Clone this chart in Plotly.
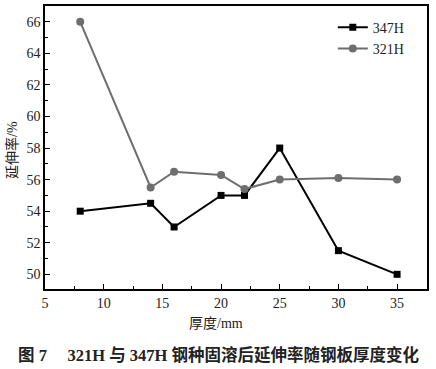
import plotly.graph_objects as go

thickness = [8, 14, 16, 20, 22, 25, 30, 35]
elong_347H = [54.0, 54.5, 53.0, 55.0, 55.0, 58.0, 51.5, 50.0]
elong_321H = [66.0, 55.5, 56.5, 56.3, 55.4, 56.0, 56.1, 56.0]

serif = "Liberation Serif, Times New Roman, serif"
cjk = "Liberation Serif, Noto Sans CJK SC, serif"

fig = go.Figure()
fig.add_trace(go.Scatter(x=thickness, y=elong_347H, name="347H", mode="lines+markers",
                         line=dict(color="black", width=2),
                         marker=dict(symbol="square", size=7, color="black")))
fig.add_trace(go.Scatter(x=thickness, y=elong_321H, name="321H", mode="lines+markers",
                         line=dict(color="#6e6e6e", width=2),
                         marker=dict(symbol="circle", size=8, color="#6e6e6e")))

axis_common = dict(showline=True, linecolor="black", linewidth=1.5, mirror=True,
                   ticks="inside", ticklen=5, tickcolor="black", tickwidth=1,
                   showgrid=False, zeroline=False, automargin=False,
                   tickfont=dict(family=serif, size=14, color="#222"))
fig.update_xaxes(range=[5, 37.55], tickvals=[5, 10, 15, 20, 25, 30, 35],
                 minor=dict(ticks="inside", ticklen=3, tickcolor="black", dtick=2.5, tick0=5),
                 **axis_common)
fig.update_yaxes(range=[49.07, 67.0], tickvals=[50, 52, 54, 56, 58, 60, 62, 64, 66],
                 minor=dict(ticks="inside", ticklen=3, tickcolor="black", dtick=1, tick0=50),
                 **axis_common)

pw = 436 - 45 - 9
ph = 369 - 6 - 80
def px(x):
    return (x - 45) / pw
def py(y):
    return (369 - 80 - y) / ph

fig.update_layout(
    width=436, height=369,
    margin=dict(l=45, r=9, t=6, b=80, autoexpand=False),
    paper_bgcolor="white", plot_bgcolor="white",
    legend=dict(x=0.955, y=0.98, xanchor="right", yanchor="top",
                bgcolor="rgba(0,0,0,0)", font=dict(family=serif, size=14, color="#222"),
                itemwidth=30, tracegroupgap=0),
    annotations=[
        dict(text="厚度/mm", x=px(216), y=py(333), xref="paper", yref="paper", showarrow=False,
             font=dict(family=cjk, size=14, color="#222")),
        dict(text="延伸率/%", x=px(2), y=py(150), xref="paper", yref="paper", showarrow=False,
             textangle=-90, font=dict(family=cjk, size=14, color="#222")),
        dict(text="<b>图 7　 321H 与 347H 钢种固溶后延伸率随钢板厚度变化</b>",
             x=px(219), y=py(367), xref="paper", yref="paper", showarrow=False,
             font=dict(family=cjk, size=16.5, color="#222")),
    ],
)

fig.write_html("out.html", config={"displayModeBar": False},
               post_script="document.body.style.margin='0';document.body.style.overflow='hidden';")
